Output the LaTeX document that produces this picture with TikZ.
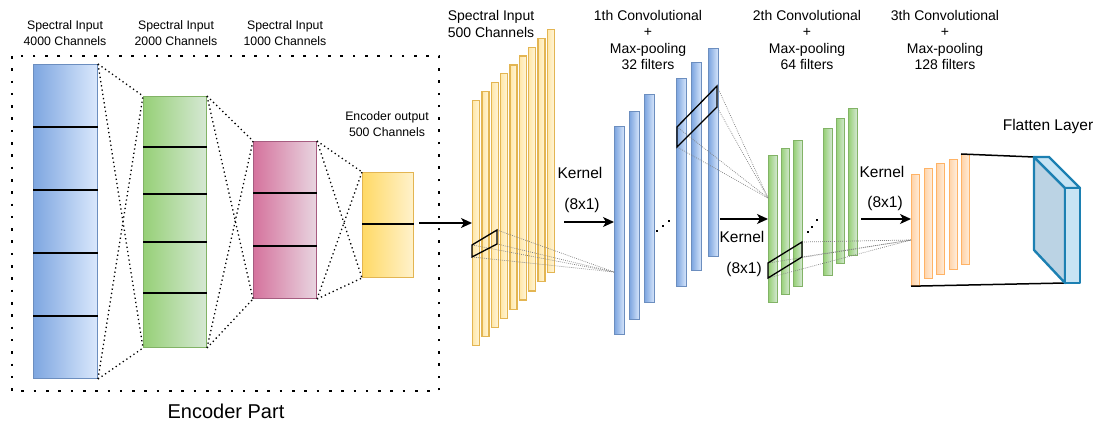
\documentclass[tikz,border=0pt]{standalone}
\usepackage{fontspec}
\setmainfont{Liberation Sans}
\usetikzlibrary{arrows.meta,calc}

\definecolor{blueL}{HTML}{7EA6E0}\definecolor{blueR}{HTML}{DAE8FC}\definecolor{blueS}{HTML}{6C8EBF}
\definecolor{greenL}{HTML}{97D077}\definecolor{greenR}{HTML}{D5E8D4}\definecolor{greenS}{HTML}{82B366}
\definecolor{pinkL}{HTML}{D5739D}\definecolor{pinkR}{HTML}{E8D5E0}\definecolor{pinkS}{HTML}{A65C80}
\definecolor{yelL}{HTML}{FFD966}\definecolor{yelR}{HTML}{FFF2CC}\definecolor{yelS}{HTML}{E3B552}
\definecolor{ybarL}{HTML}{FFE7A8}\definecolor{ybarR}{HTML}{FFF5DA}
\definecolor{orL}{HTML}{FFD3A8}\definecolor{orR}{HTML}{FFEEDD}\definecolor{orS}{HTML}{FFB366}
\definecolor{cubeS}{HTML}{1C80B2}\definecolor{cubeSide}{HTML}{BBD3E4}\definecolor{cubeFront}{HTML}{C7E4F4}

\begin{document}
\begin{tikzpicture}[x=1pt,y=-1pt,
  blk/.style={draw, line width=1pt, inner sep=0pt, anchor=north west},
  barbox/.style={draw, line width=1.2pt, inner sep=0pt, anchor=north west},
  bluefill/.style={left color=blueL, right color=blueR, draw=blueS},
  greenfill/.style={left color=greenL, right color=greenR, draw=greenS},
  pinkfill/.style={left color=pinkL, right color=pinkR, draw=pinkS},
  yelfill/.style={left color=yelL, right color=yelR, draw=yelS},
  ybarfill/.style={left color=ybarL, right color=ybarR, draw=yelS},
  orfill/.style={left color=orL, right color=orR, draw=orS},
  divider/.style={line width=1.2pt, black},
  encdot/.style={line width=1.3pt, dash pattern=on 1.3pt off 3pt},
  bigdot/.style={line width=2.6pt, dash pattern=on 2.6pt off 9.7pt},
  convdot/.style={line width=0.7pt, gray, dash pattern=on 0.8pt off 1.2pt},
  kernbox/.style={line width=1.3pt, black, line join=miter},
  arr/.style={line width=1.5pt, -{Stealth[length=11pt,width=10pt,inset=3pt]}},
  lab/.style={align=center, inner sep=0pt, font=\fontsize{12.3}{16}\selectfont},
  labb/.style={align=center, inner sep=0pt, font=\fontsize{14}{16.4}\selectfont},
  labk/.style={inner sep=0pt, font=\fontsize{15.5}{18}\selectfont},
  smalldot/.style={fill=black, minimum size=2.4pt, inner sep=0pt}
]
\useasboundingbox (0,0) rectangle (1097,427);

% ---------------- Encoder part ----------------
\draw[bigdot] (12,56) rectangle (439,391);

\node[blk, bluefill,  minimum width=64pt, minimum height=314pt] (e1) at (33,64) {};
\node[blk, greenfill, minimum width=63pt, minimum height=251pt] (e2) at (143,96) {};
\node[blk, pinkfill,  minimum width=63pt, minimum height=157pt] (e3) at (253,141) {};
\node[blk, yelfill,   minimum width=51pt, minimum height=105pt] (e4) at (362,172) {};

\foreach \yy in {127,190,253,316} \draw[divider] (e1.west |- 0,\yy) -- (e1.east |- 0,\yy);
\foreach \yy in {147,194,242,293} \draw[divider] (e2.west |- 0,\yy) -- (e2.east |- 0,\yy);
\foreach \yy in {193,246}         \draw[divider] (e3.west |- 0,\yy) -- (e3.east |- 0,\yy);
\draw[divider] (e4.west |- 0,224) -- (e4.east |- 0,224);

\foreach \a/\b in {e1/e2,e2/e3,e3/e4}{
  \draw[encdot] (\a.north east) -- (\b.north west);
  \draw[encdot] (\a.north east) -- (\b.south west);
  \draw[encdot] (\a.south east) -- (\b.north west);
  \draw[encdot] (\a.south east) -- (\b.south west);
}

\node[lab] (t1) at (65,33) {Spectral Input\\4000 Channels};
\node[lab] (t2) at (176,33) {Spectral Input\\2000 Channels};
\node[lab] (t3) at (285,33) {Spectral Input\\1000 Channels};
\node[lab] (t4) at (387,124) {Encoder output\\500 Channels};
\node[inner sep=0pt, font=\fontsize{20}{24}\selectfont] (tenc) at (226,411) {Encoder Part};

% ---------------- Spectral input stack ----------------
\foreach \i in {0,...,8}{
  \pgfmathsetmacro\xl{472+9.35*\i}
  \pgfmathsetmacro\tp{100-8.9*\i}
  \pgfmathsetmacro\hh{245-0.2*\i}
  \node[barbox, ybarfill, minimum width=7pt, minimum height=\hh pt] (yb\i) at (\xl,\tp) {};
}
\node[labb] (t5) at (491,24) {Spectral Input\\500 Channels};

\coordinate (ea) at (419,223);
\draw[arr] (ea) -- (ea -| yb0.west);

% ---------------- 1st convolution ----------------
\foreach \i/\xl/\tp/\bt in {0/614/126/334,1/629/111/319,2/644/94/302,3/676/78/286,4/691/62/270,5/708/48/256}{
  \node[barbox, bluefill, minimum width=10pt, minimum height={(\bt-\tp)*1pt}] (b\i) at (\xl,\tp) {};
}
\node[smalldot] (bd1) at (657,231) {};
\node[smalldot] (bd2) at (663,226) {};
\node[smalldot] (bd3) at (669,221) {};
\node[labb] (t6) at (648,40) {1th Convolutional\\+\\Max-pooling\\32 filters};

% kernel on the input stack
\coordinate (pa) at (472,245);
\coordinate (pb) at (497,230);
\coordinate (pc) at (497,244);
\coordinate (pd) at (472,257);
\coordinate (c1) at (b0.west |- 0,272);
\foreach \c in {pa,pb,pc,pd} \draw[convdot] (\c) -- (c1);
\draw[kernbox] (pa) -- (pb) -- (pc) -- (pd) -- cycle;

\coordinate (k1) at (564,222);
\draw[arr] (k1) -- (k1 -| b0.west);
\node[labk] (tk1) at (580,173) {Kernel};
\node[labk] (tx1) at (582,205) {(8x1)};

% ---------------- 2nd convolution ----------------
\foreach \i/\xl/\tp/\bt in {0/768/155/302,1/780.5/148/294,2/793/140/286,3/823/128/275,4/835.5/118/263,5/848/108/255}{
  \node[barbox, greenfill, minimum width=8.5pt, minimum height={(\bt-\tp)*1pt}] (g\i) at (\xl,\tp) {};
}
\node[smalldot] (gd1) at (808,232) {};
\node[smalldot] (gd2) at (812,227) {};
\node[smalldot] (gd3) at (817,220) {};
\node[labb] (t7) at (807,40) {2th Convolutional\\+\\Max-pooling\\64 filters};

% kernel on the 1st convolution output
\coordinate (qa) at (677,127);
\coordinate (qb) at (717,86);
\coordinate (qc) at (717,107);
\coordinate (qd) at (677,147);
\coordinate (c2) at (g0.west |- 0,198);
\foreach \c in {qa,qb,qc,qd} \draw[convdot] (\c) -- (c2);
\draw[kernbox] (qa) -- (qb) -- (qc) -- (qd) -- cycle;

\coordinate (k2) at (720,219);
\draw[arr] (k2) -- (k2 -| g0.west);
\node[labk] (tk2) at (742,237) {Kernel};
\node[labk] (tx2) at (744,269) {(8x1)};

% ---------------- 3rd convolution ----------------
\foreach \i/\xl/\tp/\bt in {0/911/174/285,1/923.5/168/278,2/936/163/274,3/948.5/159/269,4/961/154/264}{
  \node[barbox, orfill, minimum width=8pt, minimum height={(\bt-\tp)*1pt}] (o\i) at (\xl,\tp) {};
}
\node[labb] (t8) at (945,40) {3th Convolutional\\+\\Max-pooling\\128 filters};

% kernel on the 2nd convolution output
\coordinate (ra) at (768,263);
\coordinate (rb) at (802,242);
\coordinate (rc) at (802,257);
\coordinate (rd) at (768,278);
\coordinate (c3) at (o0.west |- 0,240);
\foreach \c in {ra,rb,rc,rd} \draw[convdot] (\c) -- (c3);
\draw[kernbox] (ra) -- (rb) -- (rc) -- (rd) -- cycle;

\coordinate (k3) at (861,219);
\draw[arr] (k3) -- (k3 -| o0.west);
\node[labk] (tk3) at (882,172) {Kernel};
\node[labk] (tx3) at (885,203) {(8x1)};

% ---------------- Flatten layer ----------------
\coordinate (fa) at (1034,157);
\coordinate (fb) at (1049,157);
\coordinate (fc) at (1080,188);
\coordinate (fd) at (1065,188);
\coordinate (fe) at (1065,283);
\coordinate (ff) at (1080,283);
\coordinate (fg) at (1034,250);
\draw[line width=1.5pt] (o4.north west) -- (fa);
\draw[line width=1.5pt] (o0.south west) -- (fe);
\draw[cubeS, line width=2.4pt, line join=round, fill=cubeSide] (fa) -- (fd) -- (fe) -- (fg) -- cycle;
\draw[cubeS, line width=2.4pt, line join=round, fill=cubeFront] (fa) -- (fb) -- (fc) -- (fd) -- cycle;
\draw[cubeS, line width=2.4pt, line join=round, fill=cubeFront] (fd) -- (fc) -- (ff) -- (fe) -- cycle;
\node[labk] (tfl) at (1048,126) {Flatten Layer};

\end{tikzpicture}
\end{document}
